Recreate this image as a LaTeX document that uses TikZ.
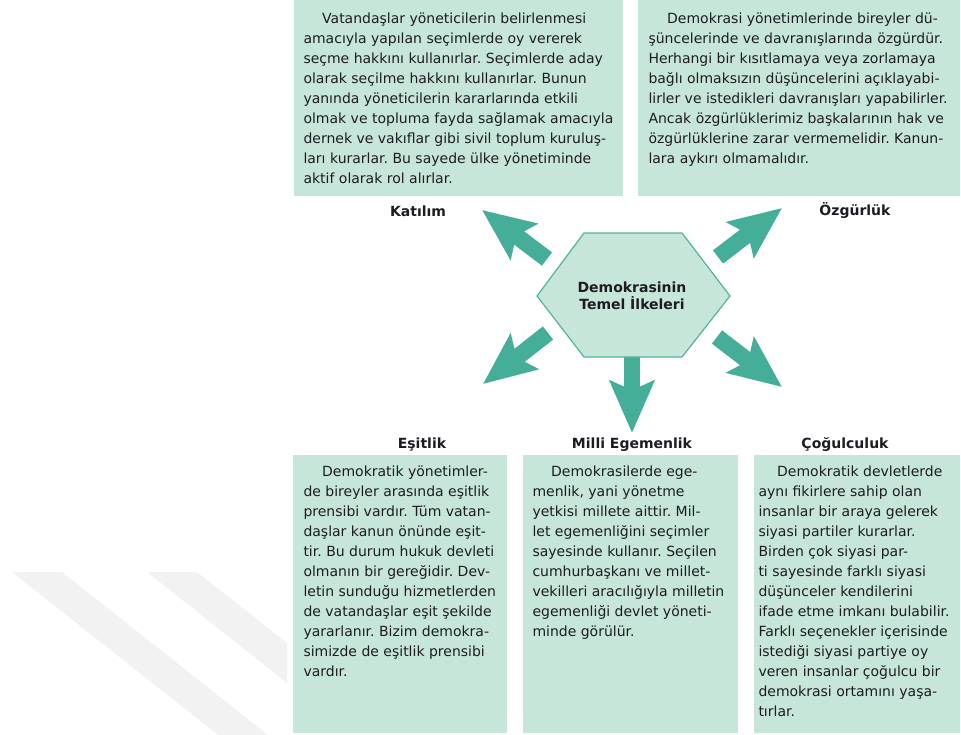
\documentclass[tikz,border=0pt]{standalone}
\usepackage{fontspec}
\setmainfont{DejaVu Sans}
\usetikzlibrary{arrows.meta}
\frenchspacing

\definecolor{boxmint}{RGB}{198,230,217}
\definecolor{arrowteal}{RGB}{69,174,152}
\definecolor{hexline}{RGB}{84,178,158}
\definecolor{bodytext}{RGB}{30,28,34}
\definecolor{wmgray}{RGB}{242,242,242}

\tikzset{every picture/.style={line width=0.75pt}}
\tikzset{
  infobox/.style={fill=boxmint, draw=none},
  bodytxt/.style={anchor=north west, inner sep=0pt, align=left, text=bodytext, font=\fontsize{10.5}{15}\selectfont},
  headtxt/.style={inner sep=0pt, text=bodytext, font=\fontsize{10.5}{13}\selectfont\bfseries},
  bigarrow/.style={draw=arrowteal, line width=12.5pt, -{Stealth[length=39pt,width=33pt,inset=7pt]}},
}
\newcommand{\parind}{\hspace*{14pt}}

\begin{document}
\begin{tikzpicture}[x=0.75pt,y=0.75pt,yscale=-1,xscale=1]
\useasboundingbox (0,0) rectangle (961,735);

%Shape: watermark stripes
\fill [wmgray] (12,572) -- (62,572) -- (268,735) -- (218,735) -- cycle ;
\fill [wmgray] (147,572) -- (197,572) -- (287,643) -- (287,683) -- cycle ;

%Shape: Rectangle boxes
\fill [infobox] (294,0) rectangle (623,196) ;
\fill [infobox] (638,0) rectangle (960,196) ;
\fill [infobox] (293,455) rectangle (507,733) ;
\fill [infobox] (523,455) rectangle (738,733) ;
\fill [infobox] (754,455) rectangle (960,733) ;

% Arrow ends
\coordinate (kat-tail) at (547,259) ;
\coordinate (kat-tip) at (482,210) ;
\coordinate (ozg-tail) at (718,257) ;
\coordinate (ozg-tip) at (782,208) ;
\coordinate (esit-tail) at (548,333) ;
\coordinate (esit-tip) at (483,384) ;
\coordinate (cog-tail) at (717,337) ;
\coordinate (cog-tip) at (782,387) ;
\coordinate (milli-tail) at (632,350) ;
\coordinate (milli-tip) at (632,433) ;

\draw [bigarrow] (kat-tail) -- (kat-tip) ;
\draw [bigarrow] (ozg-tail) -- (ozg-tip) ;
\draw [bigarrow] (esit-tail) -- (esit-tip) ;
\draw [bigarrow] (cog-tail) -- (cog-tip) ;
\draw [bigarrow] (milli-tail) -- (milli-tip) ;

%Shape: Hexagon
\draw [fill=boxmint, draw=hexline, line width=0.9pt] (537,296) -- (584,233) -- (682,233) -- (730,296) -- (682,357) -- (584,357) -- cycle ;

% Text Node
\node (hex) [headtxt, align=center, font=\fontsize{10.5}{12.75}\selectfont\bfseries] at (632,296) {Demokrasinin\\Temel İlkeleri};

% Titles
\node (katilim) [headtxt] at (418,211) {Katılım};
\node (ozgurluk) [headtxt] at (855,211) {Özgürlük};
\node (esitlik) [headtxt] at (422,445) {Eşitlik};
\node (milli) [headtxt] at (632,445) {Milli Egemenlik};
\node (cogulculuk) [headtxt] at (845,445) {Çoğulculuk};

% Text Node
\node (katilim-txt) [bodytxt] at (303,12) {\parind Vatandaşlar yöneticilerin belirlenmesi\\amacıyla yapılan seçimlerde oy vererek\\seçme hakkını kullanırlar. Seçimlerde aday\\olarak seçilme hakkını kullanırlar. Bunun\\yanında yöneticilerin kararlarında etkili\\olmak ve topluma fayda sağlamak amacıyla\\dernek ve vakıflar gibi sivil toplum kuruluş-\\ları kurarlar. Bu sayede ülke yönetiminde\\aktif olarak rol alırlar.};
% Text Node
\node (ozgurluk-txt) [bodytxt] at (648,12) {\parind Demokrasi yönetimlerinde bireyler dü-\\şüncelerinde ve davranışlarında özgürdür.\\Herhangi bir kısıtlamaya veya zorlamaya\\bağlı olmaksızın düşüncelerini açıklayabi-\\lirler ve istedikleri davranışları yapabilirler.\\Ancak özgürlüklerimiz başkalarının hak ve\\özgürlüklerine zarar vermemelidir. Kanun-\\lara aykırı olmamalıdır.};
% Text Node
\node (esitlik-txt) [bodytxt] at (303,465) {\parind Demokratik yönetimler-\\de bireyler arasında eşitlik\\prensibi vardır. Tüm vatan-\\daşlar kanun önünde eşit-\\tir. Bu durum hukuk devleti\\olmanın bir gereğidir. Dev-\\letin sunduğu hizmetlerden\\de vatandaşlar eşit şekilde\\yararlanır. Bizim demokra-\\simizde de eşitlik prensibi\\vardır.};
% Text Node
\node (milli-txt) [bodytxt] at (532,465) {\parind Demokrasilerde ege-\\menlik, yani yönetme\\yetkisi millete aittir. Mil-\\let egemenliğini seçimler\\sayesinde kullanır. Seçilen\\cumhurbaşkanı ve millet-\\vekilleri aracılığıyla milletin\\egemenliği devlet yöneti-\\minde görülür.};
% Text Node
\node (cogulculuk-txt) [bodytxt] at (758,465) {\parind Demokratik devletlerde\\aynı fikirlere sahip olan\\insanlar bir araya gelerek\\siyasi partiler kurarlar.\\Birden çok siyasi par-\\ti sayesinde farklı siyasi\\düşünceler kendilerini\\ifade etme imkanı bulabilir.\\Farklı seçenekler içerisinde\\istediği siyasi partiye oy\\veren insanlar çoğulcu bir\\demokrasi ortamını yaşa-\\tırlar.};

\end{tikzpicture}
\end{document}
